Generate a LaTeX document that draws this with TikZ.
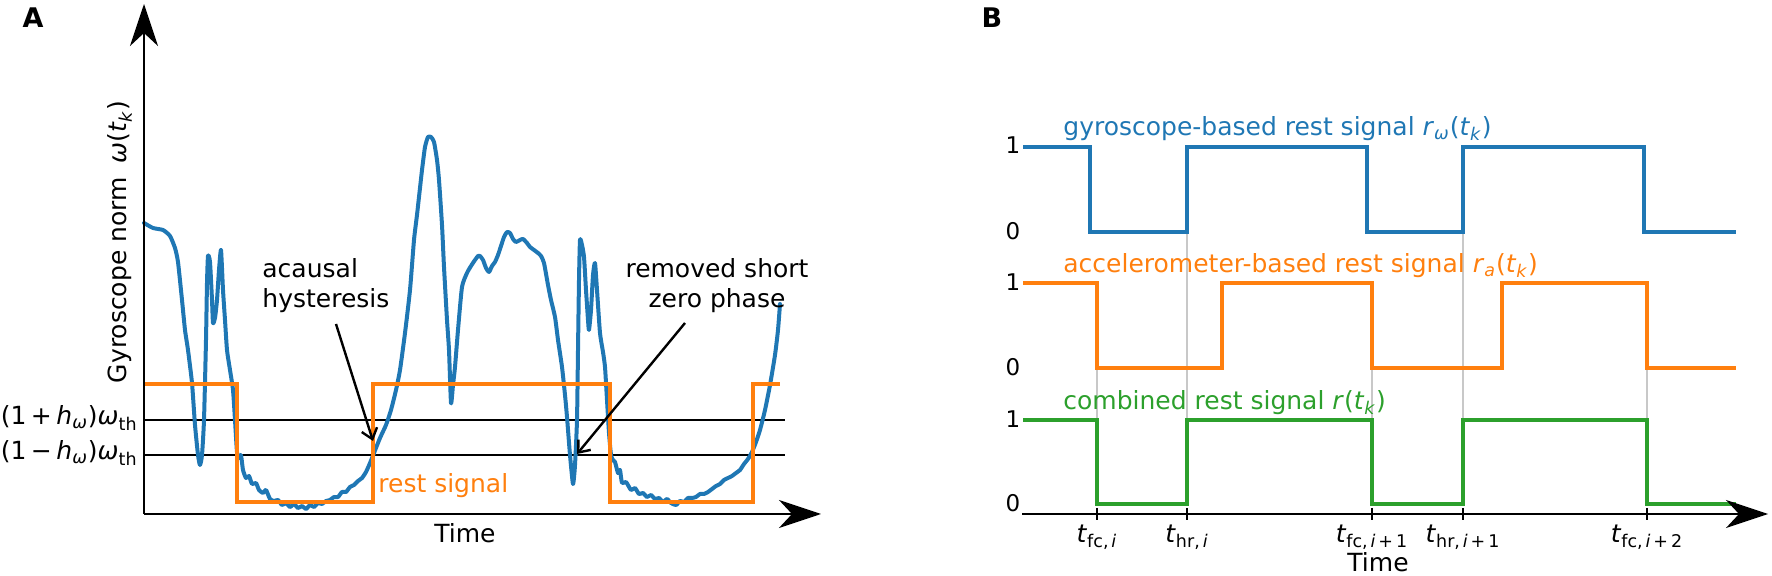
\documentclass[tikz,border=0pt]{standalone}
\usepackage{fontspec}
\setmainfont{DejaVu Sans}
\usetikzlibrary{arrows.meta}
\definecolor{tblue}{HTML}{1F77B4}
\definecolor{torange}{HTML}{FF7F0E}
\definecolor{tgreen}{HTML}{2CA02C}
\definecolor{tgray}{HTML}{C8C8C8}
\newcommand\sbs[1]{\textsubscript{#1}}
\newcommand\ii[1]{\textit{#1}}
\newcommand\fsmain{\fontsize{12.5}{15}\selectfont}
\newcommand\fstick{\fontsize{11.5}{13}\selectfont}
\newcommand\fspanel{\fontsize{13.5}{15}\selectfont\bfseries}
\begin{document}
\begin{tikzpicture}[x=0.5pt,y=-0.5pt,
  axisarrow/.style={line width=1.4pt,-{Stealth[length=21pt,width=14pt,inset=6.5pt]}},
  thresh/.style={line width=1.3pt,black},
  bluecurve/.style={line width=2pt,tblue,line join=round,line cap=round},
  sigline/.style={line width=2pt,line join=miter},
  guide/.style={line width=1pt,tgray},
  annarrow/.style={line width=1.2pt,-{Straight Barb[length=5pt,width=8pt]}},
  txt/.style={font=\fsmain,inner sep=0pt},
  ticklbl/.style={font=\fstick,inner sep=0pt},
  panellbl/.style={font=\fspanel,inner sep=0pt},
  tickmark/.style={line width=1.2pt}]
\useasboundingbox (0,0) rectangle (1772,576);

% ---------------- Panel A ----------------
\node[panellbl] (labA) at (33,18) {A};
\coordinate (Aorig) at (144,514);
\coordinate (Ayend) at (144,4);
\coordinate (Axend) at (821,514);

% threshold lines
\coordinate (thupL) at (144,420);
\coordinate (thupR) at (785,420);
\coordinate (thloL) at (144,455);
\coordinate (thloR) at (785,455);
\draw[thresh] (thupL) -- (thupR);
\draw[thresh] (thloL) -- (thloR);
\node[txt,anchor=east] (thup) at (138,418) {(1\hspace{0.18em}+\hspace{0.18em}\ii{h}\sbs{\ii{ω}})\ii{ω}\sbs{th}};
\node[txt,anchor=east] (thlo) at (138,453) {(1\hspace{0.18em}−\hspace{0.18em}\ii{h}\sbs{\ii{ω}})\ii{ω}\sbs{th}};

% gyroscope norm curve
\draw[bluecurve] plot[smooth,tension=0.35] coordinates {
(144,223) (153,228) (163,230) (170,236) (175,248) (178,262) (182,300) (185,330) (188,350) (192,383) (195,425) (198,455) (200,465) (202,455) (204,420) (206,340) (207,283) (208,256) (210,262) (212,300) (213,323) (215,318) (217,300) (219,270) (221,250) (223,290) (225,320) (227,350) (230,370) (233,390) (235,420) (237,452) (239,458) (241,455) (243,470) (246,478) (249,476) (252,484) (256,483) (259,490) (263,493) (266,490) (270,499) (274,501) (278,500) (282,505) (286,503) (290,507) (294,504) (298,508) (302,506) (306,509) (310,505) (314,507) (318,503) (322,504) (326,501) (330,500) (334,497) (338,497) (342,492) (346,492) (350,487) (354,485) (358,481) (362,478) (366,472) (370,463) (374,453) (380,438) (386,425) (391,410) (396,390) (400,370) (405,333) (410,290) (414,240) (417,215) (419,197) (422,170) (425,147) (428,137) (431,137) (434,142) (437,160) (439,180) (442,225) (444,267) (447,320) (449,350) (451,403) (453,385) (455,367) (458,330) (462,287) (467,273) (471,266) (475,260) (478,256) (480,256) (483,260) (486,268) (489,272) (492,266) (495,262) (498,255) (501,246) (504,237) (507,232) (510,233) (513,239) (516,242) (520,240) (523,239) (527,243) (530,247) (534,250) (538,253) (541,256) (544,263) (548,285) (551,300) (555,317) (558,340) (562,367) (565,395) (567,417) (570,455) (573,484) (575,465) (577,420) (578,350) (579,280) (580,240) (582,245) (584,257) (586,290) (588,320) (589,330) (591,310) (593,275) (595,263) (597,290) (600,333) (603,352) (605,367) (607,400) (609,433) (611,455) (613,460) (615,462) (618,473) (620,470) (622,483) (626,482) (631,490) (635,488) (639,494) (643,493) (647,497) (651,495) (655,499) (659,498) (663,502) (667,499) (671,503) (676,505) (680,501) (684,502) (688,498) (692,498) (696,497) (700,494) (704,494) (708,492) (712,489) (716,486) (720,484) (724,480) (728,478) (732,476) (736,473) (740,470) (744,464) (748,459) (752,452) (756,442) (760,430) (765,410) (770,385) (775,355) (778,330) (780,304)};

% rest signal
\draw[sigline,torange] (144,384) -- (237,384) -- (237,502) -- (373,502) -- (373,384)
  -- (610,384) -- (610,502) -- (753,502) -- (753,384) -- (780,384);
\node[txt,anchor=west,text=torange] (restlbl) at (378,486) {rest signal};

% axes
\draw[axisarrow] (Aorig) -- (Ayend);
\draw[axisarrow] (Aorig) -- (Axend);
\node[txt] (timeA) at (465,533) {Time};
\node[txt,rotate=90] (ylab) at (120,242) {Gyroscope norm\hspace{0.55em}\ii{ω}(\ii{t}\sbs{\ii{k}})};

% annotations
\node[txt,align=left,anchor=west] (hyst) at (262,286) {acausal\\hysteresis};
\coordinate (hystS) at (336,324);
\coordinate (hystE) at (373,441);
\draw[annarrow] (hystS) -- (hystE);
\node[txt,align=center] (remv) at (717,286) {removed short\\zero phase};
\coordinate (remvS) at (685,323);
\coordinate (remvE) at (577,454);
\draw[annarrow] (remvS) -- (remvE);

% ---------------- Panel B ----------------
\node[panellbl] (labB) at (992,18) {B};

% guide lines
\draw[guide] (1097,368) -- (1097,420);
\draw[guide] (1187,232) -- (1187,420);
\draw[guide] (1372,368) -- (1372,420);
\draw[guide] (1463,232) -- (1463,420);
\draw[guide] (1647,368) -- (1647,420);

% gyroscope-based
\draw[sigline,tblue] (1023,147) -- (1090,147) -- (1090,232) -- (1187,232) -- (1187,147)
  -- (1367,147) -- (1367,232) -- (1463,232) -- (1463,147) -- (1644,147) -- (1644,232) -- (1736,232);
% accelerometer-based
\draw[sigline,torange] (1023,283) -- (1097,283) -- (1097,368) -- (1222,368) -- (1222,283)
  -- (1372,283) -- (1372,368) -- (1502,368) -- (1502,283) -- (1647,283) -- (1647,368) -- (1736,368);
% combined
\draw[sigline,tgreen] (1023,420) -- (1097,420) -- (1097,504) -- (1187,504) -- (1187,420)
  -- (1372,420) -- (1372,504) -- (1463,504) -- (1463,420) -- (1647,420) -- (1647,504) -- (1736,504);

\node[txt,anchor=west,text=tblue] (gyrlbl) at (1063,129) {gyroscope-based rest signal \ii{r}\sbs{\ii{ω}}(\ii{t}\sbs{\ii{k}})};
\node[txt,anchor=west,text=torange] (acclbl) at (1063,266) {accelerometer-based rest signal \ii{r}\sbs{\ii{a}}(\ii{t}\sbs{\ii{k}})};
\node[txt,anchor=west,text=tgreen] (comlbl) at (1063,403) {combined rest signal \ii{r}(\ii{t}\sbs{\ii{k}})};

\node[ticklbl] (b1) at (1013,145) {1};
\node[ticklbl] (b0) at (1013,231) {0};
\node[ticklbl] (o1) at (1013,282) {1};
\node[ticklbl] (o0) at (1013,367) {0};
\node[ticklbl] (g1) at (1013,419) {1};
\node[ticklbl] (g0) at (1013,503) {0};

% time axis
\coordinate (Borig) at (1022,514);
\coordinate (Bxend) at (1768,514);
\draw[axisarrow] (Borig) -- (Bxend);
\foreach \tx in {1097,1187,1372,1463,1647}{
  \draw[tickmark] (\tx,508) -- (\tx,520);
}
\node[txt] (tfci) at (1097,537) {\ii{t}\sbs{fc,\,\ii{i}}};
\node[txt] (thri) at (1187,537) {\ii{t}\sbs{hr,\,\ii{i}}};
\node[txt] (tfcii) at (1372,537) {\ii{t}\sbs{fc,\,\ii{i}\,+\,1}};
\node[txt] (thrii) at (1463,537) {\ii{t}\sbs{hr,\,\ii{i}\,+\,1}};
\node[txt] (tfciii) at (1647,537) {\ii{t}\sbs{fc,\,\ii{i}\,+\,2}};
\node[txt] (timeB) at (1378,562) {Time};
\end{tikzpicture}
\end{document}
